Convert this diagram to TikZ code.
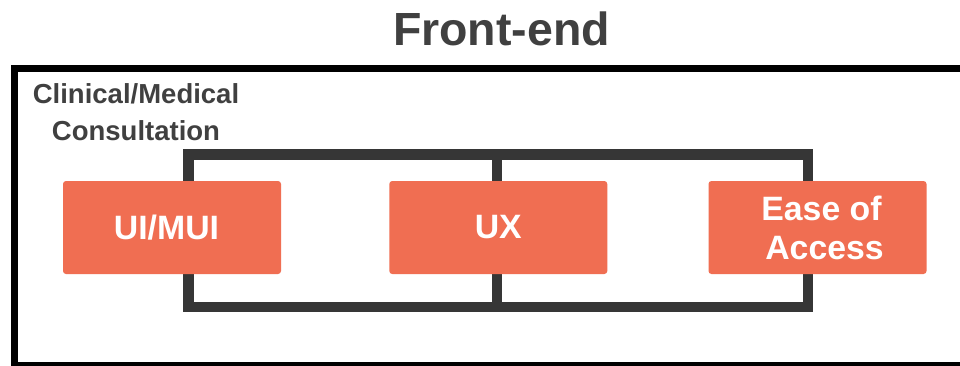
\documentclass[tikz,border=0pt]{standalone}
\usepackage{fontspec}
\setmainfont{Liberation Sans}
\definecolor{boxorange}{RGB}{240,110,82}
\definecolor{framegray}{RGB}{54,54,54}
\definecolor{textgray}{RGB}{64,64,64}
\begin{document}
\begin{tikzpicture}[x=1pt,y=-1pt,
  itembox/.style={fill=boxorange, rounded corners=3pt, minimum width=218pt, minimum height=93pt,
    text=white, font=\bfseries\fontsize{33.8}{39}\selectfont, align=center, inner sep=0pt},
  frameline/.style={draw=framegray, line width=10.5pt, line join=miter},
  outerline/.style={draw=black, line width=7pt},
  titletext/.style={text=textgray, font=\bfseries\fontsize{46.5}{54}\selectfont, inner sep=0pt},
  labeltext/.style={text=textgray, font=\bfseries\fontsize{27.5}{36.7}\selectfont, align=center, inner sep=0pt}]
\useasboundingbox (0,0) rectangle (960,365);
\clip (0,0) rectangle (960,365);
\fill[white] (0,0) rectangle (960,365);
% outer container
\draw[outerline] (14.5,68.5) rectangle (975,365.5);
\node[titletext, anchor=base] (title) at (501.5,45) {Front-end};
\node[labeltext, anchor=base] (label) at (136,140) {Clinical/Medical\\Consultation};
% frame coordinates
\coordinate (tl) at (188.5,154.7);
\coordinate (tm) at (497,154.7);
\coordinate (tr) at (808,154.7);
\coordinate (bl) at (188.5,307);
\coordinate (bm) at (497,307);
\coordinate (br) at (808,307);
\draw[frameline] (tl) -- (tr) -- (br) -- (bl) -- cycle;
\draw[frameline] (tm) -- (bm);
% boxes
\node[itembox] (ui) at (172,227.5) {\hspace*{-11pt}UI/MUI};
\node[itembox] (ux) at (498.3,227.5) {UX};
\node[itembox] (ease) at (817.5,227.5) {\hspace*{8pt}Ease of\\\hspace*{14pt}Access};
\end{tikzpicture}
\end{document}
